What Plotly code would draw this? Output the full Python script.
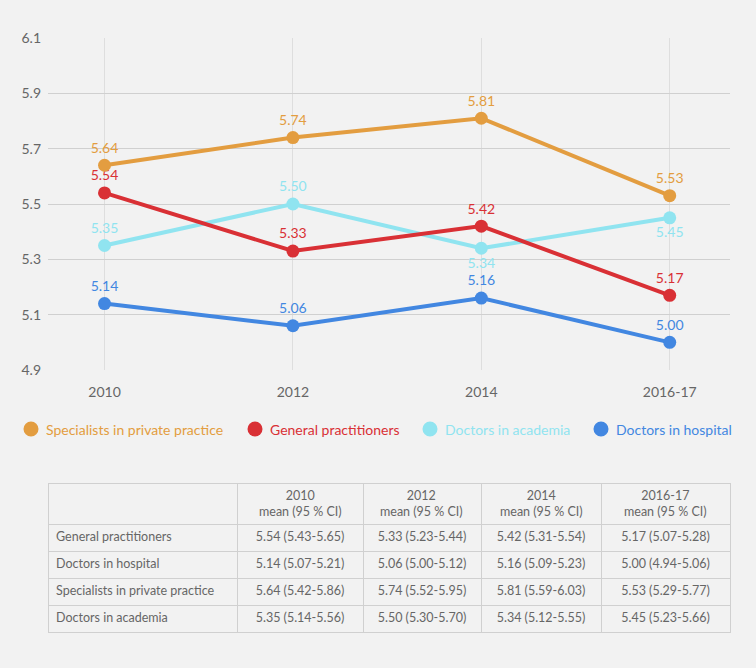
import plotly.graph_objects as go

years = ["2010", "2012", "2014", "2016-17"]
specialists = [5.64, 5.74, 5.81, 5.53]
gps = [5.54, 5.33, 5.42, 5.17]
academia = [5.35, 5.50, 5.34, 5.45]
hospital = [5.14, 5.06, 5.16, 5.00]

academia_pos = ["top center", "top center", "bottom center", "bottom center"]

table_rows = ["General practitioners", "Doctors in hospital",
              "Specialists in private practice", "Doctors in academia"]
table_headers = ["", "2010<br>mean (95 % CI)", "2012<br>mean (95 % CI)",
                 "2014<br>mean (95 % CI)", "2016-17<br>mean (95 % CI)"]
col_2010 = ["5.54 (5.43-5.65)", "5.14 (5.07-5.21)", "5.64 (5.42-5.86)", "5.35 (5.14-5.56)"]
col_2012 = ["5.33 (5.23-5.44)", "5.06 (5.00-5.12)", "5.74 (5.52-5.95)", "5.50 (5.30-5.70)"]
col_2014 = ["5.42 (5.31-5.54)", "5.16 (5.09-5.23)", "5.81 (5.59-6.03)", "5.34 (5.12-5.55)"]
col_2016 = ["5.17 (5.07-5.28)", "5.00 (4.94-5.06)", "5.53 (5.29-5.77)", "5.45 (5.23-5.66)"]
col_widths = [189, 126, 118, 120, 129]

BG = "#f2f2f2"
FONT = "Lato"
TXT = "#666666"
C_ORANGE = "#e39d40"
C_RED = "#d93035"
C_CYAN = "#90e4f0"
C_BLUE = "#4287e1"

W, H = 756, 668
ML, MR, MT, MB = 48, 26, 38, 35
PW, PH = W - ML - MR, H - MT - MB


def px_to_paper(xp, yp):
    return (xp - ML) / PW, (H - MB - yp) / PH


fig = go.Figure()


def add_series(name, vals, color, pos="top center"):
    fig.add_trace(go.Scatter(
        x=years, y=vals, name=name, mode="lines+markers+text",
        line=dict(color=color, width=4),
        marker=dict(color=color, size=13),
        text=[f"{v:.2f}" for v in vals], textposition=pos,
        textfont=dict(color=color, size=14, family=FONT),
        showlegend=False, hoverinfo="skip", cliponaxis=False,
    ))


add_series("Doctors in academia", academia, C_CYAN, academia_pos)
add_series("Doctors in hospital", hospital, C_BLUE)
add_series("General practitioners", gps, C_RED)
add_series("Specialists in private practice", specialists, C_ORANGE)

# custom legend (circle + label)
legend_items = [("Specialists in private practice", C_ORANGE, 31),
                ("General practitioners", C_RED, 255),
                ("Doctors in academia", C_CYAN, 430),
                ("Doctors in hospital", C_BLUE, 601)]
shapes, annotations = [], []
LEG_Y = 429
R = 7.5
for name, color, cx in legend_items:
    x0, y0 = px_to_paper(cx - R, LEG_Y + R)
    x1, y1 = px_to_paper(cx + R, LEG_Y - R)
    shapes.append(dict(type="circle", xref="paper", yref="paper",
                       x0=x0, y0=y0, x1=x1, y1=y1,
                       fillcolor=color, line=dict(width=0)))
    tx, ty = px_to_paper(cx + 13, LEG_Y)
    annotations.append(dict(x=tx, y=ty, xref="paper", yref="paper",
                            text=name, showarrow=False, xanchor="left",
                            yanchor="middle",
                            font=dict(color=color, size=14, family=FONT)))

# table
T_TOP, HEAD_H, ROW_H = 483, 41, 27
t_top = px_to_paper(0, T_TOP)[1]
fig.add_trace(go.Table(
    domain=dict(x=[0, 1], y=[0, t_top]),
    columnwidth=col_widths,
    header=dict(values=[""] * len(table_headers), fill_color=BG,
                line=dict(color="#d0d0d0", width=1),
                height=HEAD_H,
                font=dict(family=FONT, size=12.5, color=TXT)),
    cells=dict(values=[table_rows, col_2010, col_2012, col_2014, col_2016],
               fill_color=BG, line=dict(color="#d0d0d0", width=1),
               align=["left", "center", "center", "center", "center"], height=ROW_H,
               font=dict(family=FONT, size=12.5, color=TXT)),
))

# header labels as centered annotations (centered line by line)
total_w = sum(col_widths)
acc = 0
for label, cw in zip(table_headers, col_widths):
    cx = ML + PW * (acc + cw / 2) / total_w
    acc += cw
    if not label:
        continue
    ax, ay = px_to_paper(cx, T_TOP + HEAD_H / 2)
    annotations.append(dict(x=ax, y=ay, xref="paper", yref="paper",
                            text=label, showarrow=False, xanchor="center",
                            yanchor="middle", align="center",
                            font=dict(color=TXT, size=12.5, family=FONT)))

fig.update_layout(
    width=W, height=H,
    paper_bgcolor=BG, plot_bgcolor=BG,
    margin=dict(l=ML, r=MR, t=MT, b=MB, autoexpand=False),
    font=dict(family=FONT, color=TXT),
    shapes=shapes, annotations=annotations,
    showlegend=False,
    xaxis=dict(type="category", range=[-0.3, 3.32], showline=False,
               showgrid=True, gridcolor="#dedede", gridwidth=1,
               tickfont=dict(size=14, color=TXT), ticks="",
               zeroline=False, automargin=False, ticklabelstandoff=12),
    yaxis=dict(range=[4.9, 6.1], domain=[px_to_paper(0, 370)[1], 1],
               tickvals=[4.9, 5.1, 5.3, 5.5, 5.7, 5.9, 6.1],
               ticktext=["4.9", "5.1", "5.3", "5.5", "5.7", "5.9", "6.1"],
               showgrid=True, gridcolor="#d0d0d0", gridwidth=1,
               zeroline=False, showline=False, ticks="", automargin=False,
               tickfont=dict(size=14, color=TXT), ticklabelstandoff=6),
)

fig.write_html(
    "out.html",
    config={"displayModeBar": False},
    post_script="document.body.style.margin='0';document.body.style.background='%s';" % BG,
)
